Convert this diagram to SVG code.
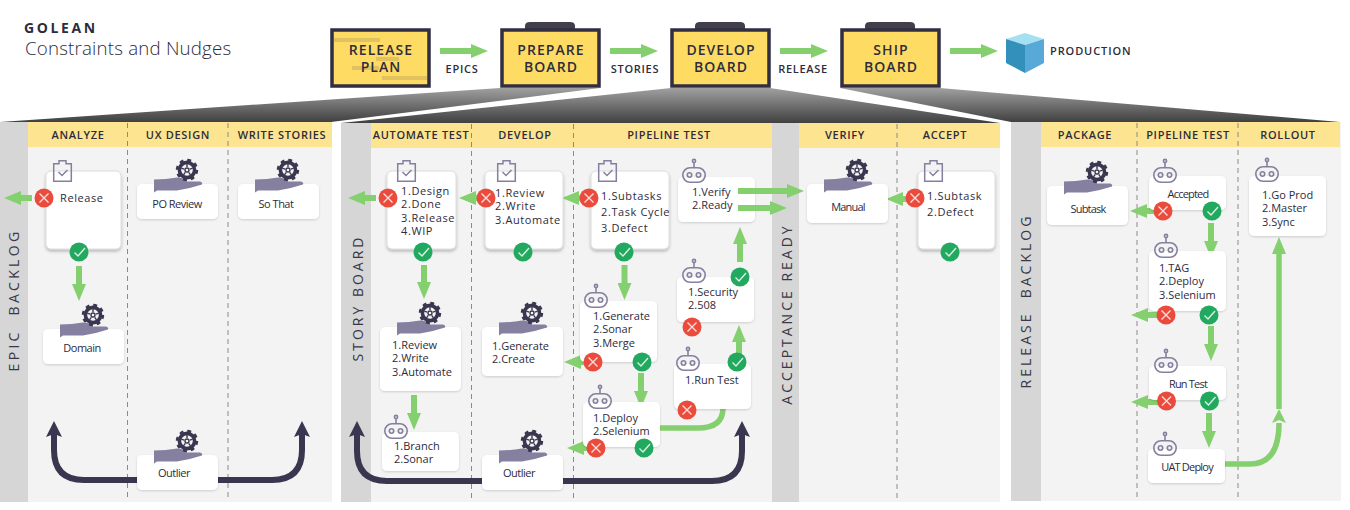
<svg xmlns="http://www.w3.org/2000/svg" xmlns:xlink="http://www.w3.org/1999/xlink" width="1350" height="510" viewBox="0 0 1350 510">
<style>
text{font-family:"Open Sans","Noto Sans","Liberation Sans",sans-serif;fill:#2e2c3c}
.t{font-size:11px;letter-spacing:.6px}
.n{font-size:11px;letter-spacing:0}
.c{font-size:11px;letter-spacing:-.5px;text-anchor:middle}
.cn{font-size:11px;letter-spacing:-.8px;text-anchor:middle}
.h{font-size:11px;font-weight:600;letter-spacing:.7px;text-anchor:middle}
.lb{font-size:11px;font-weight:600;letter-spacing:.7px;text-anchor:middle}
.b{font-size:14px;font-weight:600;letter-spacing:1.05px;text-anchor:middle}
.v{font-size:14px;font-weight:400;letter-spacing:3px;text-anchor:middle;fill:#3a3848;white-space:pre}
.card{fill:#fff;filter:url(#sh)}
.bcard{fill:#fff;stroke:#dcdcdc;filter:url(#sh2)}
.bg{fill:#f3f3f3}.side{fill:#d6d6d6}.hd{fill:#fde490}
.div{stroke:#8a8a8a;stroke-dasharray:5 4;fill:none}
.bx{fill:#fedc64;stroke:#302e40;stroke-width:3.5}
.tab{fill:#423f4a}
.ar{stroke:#85d06e;stroke-width:6;fill:none;marker-end:url(#ah)}
.cv{stroke:#85d06e;stroke-width:5.5;fill:none}
.lp{stroke:#3a3650;stroke-width:6;fill:none;marker-end:url(#dh)}
.sk{fill:#e2c25e}
</style>
<defs>
<linearGradient id="fan" x1="0" y1="0" x2="0" y2="1"><stop offset="0" stop-color="#a0a0a0"/><stop offset="1" stop-color="#404040"/></linearGradient>
<filter id="sh" x="-20%" y="-20%" width="140%" height="150%"><feDropShadow dx="0" dy="1" stdDeviation="1.2" flood-color="#000" flood-opacity=".16"/></filter>
<filter id="sh2" x="-20%" y="-20%" width="140%" height="150%"><feDropShadow dx="0" dy="2" stdDeviation="1.5" flood-color="#000" flood-opacity=".25"/></filter>
<marker id="ah" markerUnits="userSpaceOnUse" markerWidth="18" markerHeight="14" refX="0" refY="7" viewBox="0 0 18 14" orient="auto"><path d="M0,0L17,7L0,14Z" fill="#85d06e"/></marker>
<marker id="ag" markerUnits="userSpaceOnUse" markerWidth="18" markerHeight="14" refX="0" refY="7" viewBox="0 0 18 14" orient="auto"><path d="M0,0L14,7L0,14L3,7Z" fill="#85d06e"/></marker>
<marker id="dh" markerUnits="userSpaceOnUse" markerWidth="18" markerHeight="16" refX="3" refY="8" viewBox="0 0 18 16" orient="auto"><path d="M0,0L16,8L0,16L3,8Z" fill="#3a3650"/></marker>
<g id="gear"><circle r="7.6" fill="none" stroke="#3a3650" stroke-width="3.6"/><circle r="10" fill="none" stroke="#3a3650" stroke-width="2.4" stroke-dasharray="3.9 3.95"/><circle r="2" fill="none" stroke="#3a3650" stroke-width="1.4"/><path d="M0,-6V-3M5.7,-1.8L2.8,-.9M3.5,4.9L1.7,2.4M-3.5,4.9L-1.7,2.4M-5.7,-1.8L-2.8,-.9" stroke="#3a3650" stroke-width="1.4"/></g>
<path id="hand" d="M0,2Q12,2 23,0Q30,0 33,4L46,4Q49,5 48,7Q36,11 23,13L3,13L0,15Z" fill="#85809f"/>
<g id="clip" fill="none" stroke="#85809f" stroke-width="1.5"><path d="M.7,3.7H6V.7H13V3.7H18.3V21.3H.7Z"/><path d="M5.5,12L9,15.5L14.5,10"/></g>
<g id="bot" fill="none" stroke="#85809f" stroke-width="1.6"><rect x=".8" y="8.8" width="22.4" height="14.4" rx="7.2"/><circle cx="12" cy="2" r="1.6"/><path d="M12,3.6V8.8"/><circle cx="7.5" cy="16" r="2.2"/><circle cx="16.5" cy="16" r="2.2"/></g>
<g id="no"><circle r="9.5" fill="#ea4b3c"/><path d="M-4.5,-4.5L4.5,4.5M4.5,-4.5L-4.5,4.5" stroke="#fbdcd8" stroke-width="1.4"/></g>
<g id="ok"><circle r="9.5" fill="#22a95f"/><path d="M-4.5,.5L-1,4L6,-4" fill="none" stroke="#d8f2e2" stroke-width="1.4"/></g>
</defs>
<rect width="1350" height="510" fill="#fff"/>

<g id="title">
<text x="24" y="33" style="font-size:14px;font-weight:700;letter-spacing:2.6px">GOLEAN</text>
<text x="25" y="55" style="font-size:18.7px;font-weight:300;letter-spacing:.2px">Constraints and Nudges</text>
</g>

<g id="fans">
<polygon points="500,88 600,88 331,122 0,122" fill="url(#fan)"/>
<polygon points="671,88 770,88 1000,123 341,123" fill="url(#fan)"/>
<polygon points="840,88 940,88 1340,122 1011,122" fill="url(#fan)"/>
</g>

<g id="panel-epic">
<rect class="bg" x="0" y="122" width="332" height="380"/><rect class="side" x="0" y="122" width="28" height="380"/><rect class="hd" x="28" y="122" width="304" height="25"/>
<path class="div" d="M127.5,123V498M228,123V498"/>
<text class="h" x="78" y="139">ANALYZE</text><text class="h" x="178" y="139">UX DESIGN</text><text class="h" x="282" y="139">WRITE STORIES</text>
<text class="v" style="letter-spacing:3.3px" transform="translate(18.5 300) rotate(-90)">EPIC  BACKLOG</text>
</g>
<g id="panel-story">
<rect class="bg" x="341" y="123" width="659" height="379"/><rect class="side" x="341" y="123" width="30" height="379"/><rect class="hd" x="371" y="123" width="401" height="25"/>
<rect class="side" x="772" y="123" width="27" height="379"/><rect class="hd" x="799" y="123" width="201" height="25"/>
<path class="div" d="M471.5,124V502M573.5,124V502M897,124V502"/>
<text class="h" x="421" y="139">AUTOMATE TEST</text><text class="h" x="525" y="139">DEVELOP</text><text class="h" x="669" y="139">PIPELINE TEST</text><text class="h" x="845" y="139">VERIFY</text><text class="h" x="945" y="139">ACCEPT</text>
<text class="v" transform="translate(363 298) rotate(-90)">STORY BOARD</text>
<text class="v" transform="translate(792 314) rotate(-90)">ACCEPTANCE READY</text>
</g>
<g id="panel-release">
<rect class="bg" x="1011" y="122" width="330" height="379"/><rect class="side" x="1011" y="122" width="30" height="379"/><rect class="hd" x="1041" y="122" width="299" height="25"/>
<path class="div" d="M1137,123V501M1238,123V501"/>
<text class="h" x="1085" y="139">PACKAGE</text><text class="h" x="1188" y="139">PIPELINE TEST</text><text class="h" x="1288" y="139">ROLLOUT</text>
<text class="v" transform="translate(1031 301) rotate(-90)">RELEASE  BACKLOG</text>
</g>

<g id="connectors">
<line class="ar" x1="440" y1="51" x2="471" y2="51"/><line class="ar" x1="610" y1="51" x2="641" y2="51"/><line class="ar" x1="780" y1="51" x2="811" y2="51"/><line class="ar" x1="950" y1="51" x2="981" y2="51"/>
<line class="ar" x1="32" y1="198" x2="21" y2="198"/><line class="ar" x1="79" y1="266" x2="79" y2="284"/>
<path class="lp" d="M137,480H84Q54,480 54,450V434"/><path class="lp" d="M218,480H272Q302,480 302,450V434"/>
<line class="ar" x1="376" y1="198" x2="365" y2="198"/><line class="ar" x1="424" y1="265" x2="424" y2="282"/>
<line class="ar" x1="486" y1="198" x2="476" y2="198"/><line class="ar" x1="589" y1="198" x2="579" y2="198"/>
<line class="ar" x1="414" y1="395" x2="414" y2="413"/>
<path class="lp" d="M482,481H387Q357,481 357,451V434"/><path class="lp" d="M563,481H712Q742,481 742,451V434"/>
<line class="ar" x1="624.5" y1="265" x2="624.5" y2="283"/>
<line class="ar" x1="593" y1="362" x2="581" y2="362"/><line class="ar" x1="596" y1="448" x2="584" y2="448"/>
<line class="ar" x1="641" y1="373" x2="641" y2="391"/>
<path class="cv" d="M660,428H698Q723,428 723,408"/>
<line class="ar" x1="739" y1="362" x2="739" y2="342"/><line class="ar" x1="740" y1="262" x2="740" y2="244"/>
<line class="ar" x1="915" y1="199" x2="903" y2="199"/>
<line class="ar" x1="1163" y1="211" x2="1147" y2="211"/><line class="ar" x1="1166" y1="315" x2="1148" y2="315"/><line class="ar" x1="1166" y1="402" x2="1148" y2="402"/>
<line class="ar" x1="1211" y1="223" x2="1211" y2="241"/><line class="ar" x1="1211" y1="326" x2="1211" y2="344"/><line class="ar" x1="1209" y1="413" x2="1209" y2="431"/>
<path class="cv" d="M1225,464H1250Q1279,464 1279,423" style="marker-end:url(#ag)"/>
<line class="cv" x1="1279" y1="409" x2="1279" y2="254" style="marker-end:url(#ah)"/>
</g>

<g id="release-plan"><rect class="bx" x="332" y="30" width="97" height="56"/><rect class="sk" x="334" y="38" width="46" height="4"/><rect class="sk" x="376" y="57" width="23" height="4"/><rect class="sk" x="352" y="66" width="27" height="4"/><rect class="sk" x="382" y="76" width="45" height="4"/><text class="b" x="381" y="55">RELEASE</text><text class="b" x="381" y="72">PLAN</text></g>
<g id="prepare-board"><path class="tab" d="M525,29V26Q525,22 530,22H570Q575,22 575,26V29Z"/><rect class="bx" x="502" y="30" width="97" height="56"/><text class="b" x="551" y="55">PREPARE</text><text class="b" x="551" y="72">BOARD</text></g>
<g id="develop-board"><path class="tab" d="M695,29V26Q695,22 700,22H740Q745,22 745,26V29Z"/><rect class="bx" x="672" y="30" width="97" height="56"/><text class="b" x="721" y="55">DEVELOP</text><text class="b" x="721" y="72">BOARD</text></g>
<g id="ship-board"><path class="tab" d="M865,29V26Q865,22 870,22H910Q915,22 915,26V29Z"/><rect class="bx" x="842" y="30" width="97" height="56"/><text class="b" x="891" y="55">SHIP</text><text class="b" x="891" y="72">BOARD</text></g>
<g id="production"><polygon points="1025,33 1044,39 1025,45 1006,39" fill="#a4dff2"/><polygon points="1006,39 1025,45 1025,73 1006,63" fill="#3390bb"/><polygon points="1044,39 1025,45 1025,73 1044,63" fill="#58a8d8"/><text x="1050" y="55" style="font-size:11px;font-weight:600;letter-spacing:.9px">PRODUCTION</text></g>
<g id="label-epics"><text class="lb" x="462" y="73">EPICS</text></g>
<g id="label-stories"><text class="lb" x="635" y="73">STORIES</text></g>
<g id="label-release"><text class="lb" x="803" y="73">RELEASE</text></g>

<g id="n-release"><rect class="bcard" x="46" y="171" width="75" height="78" rx="5"/><use href="#clip" x="53" y="160"/><text class="t" x="60" y="202">Release</text><use href="#no" x="44" y="198"/><use href="#ok" x="79" y="252"/></g>
<g id="n-domain"><rect class="card" x="43" y="329" width="81" height="35" rx="5"/><use href="#hand" x="60" y="322.5"/><use href="#gear" x="93" y="315"/><text class="c" x="82" y="352">Domain</text></g>
<g id="n-po-review"><rect class="card" x="137" y="184" width="81" height="35" rx="5"/><use href="#hand" x="154" y="177.5"/><use href="#gear" x="187" y="170"/><text class="c" x="177" y="208">PO Review</text></g>
<g id="n-so-that"><rect class="card" x="238" y="184" width="81" height="35" rx="5"/><use href="#hand" x="255" y="177.5"/><use href="#gear" x="288" y="170"/><text class="c" x="276" y="208">So That</text></g>
<g id="n-outlier-1"><rect class="card" x="137" y="455" width="81" height="35" rx="5"/><use href="#hand" x="154" y="448.5"/><use href="#gear" x="187" y="441"/><text class="c" x="174" y="477">Outlier</text></g>

<g id="n-design"><rect class="bcard" x="387" y="171" width="69" height="78" rx="5"/><use href="#clip" x="397" y="160"/><text class="t" x="401" y="195">1.Design</text><text class="t" x="401" y="208">2.Done</text><text class="t" x="401" y="222">3.Release</text><text class="t" x="401" y="235">4.WIP</text><use href="#no" x="388" y="198"/><use href="#ok" x="423" y="252"/></g>
<g id="n-dev-review"><rect class="bcard" x="485" y="171" width="78" height="78" rx="5"/><use href="#clip" x="497" y="160"/><text class="t" x="495" y="197">1.Review</text><text class="t" x="495" y="210">2.Write</text><text class="t" x="495" y="224">3.Automate</text><use href="#no" x="486" y="198"/><use href="#ok" x="523" y="252"/></g>
<g id="n-review"><rect class="card" x="380" y="327" width="81" height="64" rx="5"/><use href="#hand" x="397" y="320.5"/><use href="#gear" x="430" y="313"/><text class="n" x="392" y="349">1.Review</text><text class="n" x="392" y="362">2.Write</text><text class="n" x="392" y="376">3.Automate</text></g>
<g id="n-branch"><rect class="card" x="382" y="432" width="77" height="39" rx="5"/><use href="#bot" x="384" y="415"/><text class="n" x="394" y="449.5">1.Branch</text><text class="n" x="394" y="462.5">2.Sonar</text></g>
<g id="n-generate-create"><rect class="card" x="482" y="327" width="81" height="49" rx="5"/><use href="#hand" x="499" y="320.5"/><use href="#gear" x="532" y="313"/><text class="n" x="492" y="350">1.Generate</text><text class="n" x="492" y="363">2.Create</text></g>
<g id="n-outlier-2"><rect class="card" x="482" y="455" width="81" height="35" rx="5"/><use href="#hand" x="499" y="448.5"/><use href="#gear" x="532" y="441"/><text class="c" x="519" y="477">Outlier</text></g>

<g id="n-subtasks"><rect class="bcard" x="591" y="171" width="78" height="78" rx="5"/><use href="#clip" x="598" y="160"/><text class="t" x="601" y="200">1.Subtasks</text><text class="t" x="601" y="216">2.Task Cycle</text><text class="t" x="601" y="232">3.Defect</text><use href="#no" x="589" y="198"/><use href="#ok" x="624" y="252"/></g>
<g id="n-generate"><rect class="card" x="580" y="301" width="77" height="61" rx="5"/><use href="#bot" x="584" y="284"/><text class="n" x="593" y="320">1.Generate</text><text class="n" x="593" y="333">2.Sonar</text><text class="n" x="593" y="347">3.Merge</text><use href="#no" x="593" y="362"/><use href="#ok" x="642" y="362"/></g>
<g id="n-deploy"><rect class="card" x="583" y="402" width="77" height="45" rx="5"/><use href="#bot" x="588" y="385"/><text class="n" x="593" y="421.5">1.Deploy</text><text class="n" x="593" y="434.5">2.Selenium</text><use href="#no" x="596" y="448"/><use href="#ok" x="644" y="448"/></g>
<g id="n-run-test"><rect class="card" x="674" y="364" width="77" height="45" rx="5"/><use href="#bot" x="676" y="347"/><text class="n" x="685" y="384">1.Run Test</text><use href="#no" x="687" y="410"/><use href="#ok" x="737" y="362"/></g>
<g id="n-security"><rect class="card" x="677" y="277" width="77" height="45" rx="5"/><use href="#bot" x="682" y="259"/><text class="n" x="688" y="296">1.Security</text><text class="n" x="688" y="309">2.508</text><use href="#no" x="692" y="327"/><use href="#ok" x="740" y="277"/></g>
<g id="n-verify"><rect class="card" x="678" y="177" width="77" height="45" rx="5"/><use href="#bot" x="682" y="159"/><text class="n" x="692" y="196">1.Verify</text><text class="n" x="692" y="209">2.Ready</text></g>
<g id="n-manual"><rect class="card" x="807" y="184" width="81" height="39" rx="5"/><use href="#hand" x="824" y="177.5"/><use href="#gear" x="857" y="170"/><text class="cn" x="848" y="211">Manual</text></g>
<g id="n-subtask"><rect class="bcard" x="918" y="171" width="77" height="78" rx="5"/><use href="#clip" x="924" y="160"/><text class="t" x="927" y="200">1.Subtask</text><text class="t" x="927" y="216">2.Defect</text><use href="#no" x="915" y="198"/><use href="#ok" x="950" y="252"/></g>

<g id="n-package-subtask"><rect class="card" x="1047" y="186" width="81" height="39" rx="5"/><use href="#hand" x="1064" y="179.5"/><use href="#gear" x="1097" y="172"/><text class="cn" x="1088" y="213">Subtask</text></g>
<g id="n-accepted"><rect class="card" x="1149" y="176" width="77" height="34" rx="5"/><use href="#bot" x="1153" y="159"/><text class="cn" x="1188" y="198">Accepted</text><use href="#no" x="1163" y="211"/><use href="#ok" x="1212" y="211"/></g>
<g id="n-tag"><rect class="card" x="1149" y="251" width="77" height="60" rx="5"/><use href="#bot" x="1154" y="234"/><text class="n" x="1159" y="272">1.TAG</text><text class="n" x="1159" y="285">2.Deploy</text><text class="n" x="1159" y="299">3.Selenium</text><use href="#no" x="1166" y="315"/><use href="#ok" x="1209" y="315"/></g>
<g id="n-run-test-2"><rect class="card" x="1149" y="366" width="77" height="34" rx="5"/><use href="#bot" x="1154" y="349"/><text class="cn" x="1188" y="388">Run Test</text><use href="#no" x="1166.5" y="401"/><use href="#ok" x="1209.5" y="401"/></g>
<g id="n-uat"><rect class="card" x="1148" y="449" width="77" height="34" rx="5"/><use href="#bot" x="1153" y="432"/><text class="cn" x="1187" y="471">UAT Deploy</text></g>
<g id="n-go-prod"><rect class="card" x="1249" y="176" width="77" height="60" rx="5"/><use href="#bot" x="1255" y="158"/><text class="n" x="1262" y="199">1.Go Prod</text><text class="n" x="1262" y="212">2.Master</text><text class="n" x="1262" y="226">3.Sync</text></g>

<g id="connectors-over-cards">
<line class="ar" x1="738" y1="191" x2="787" y2="191"/><line class="ar" x1="738" y1="208" x2="770" y2="208"/>
</g>
</svg>
